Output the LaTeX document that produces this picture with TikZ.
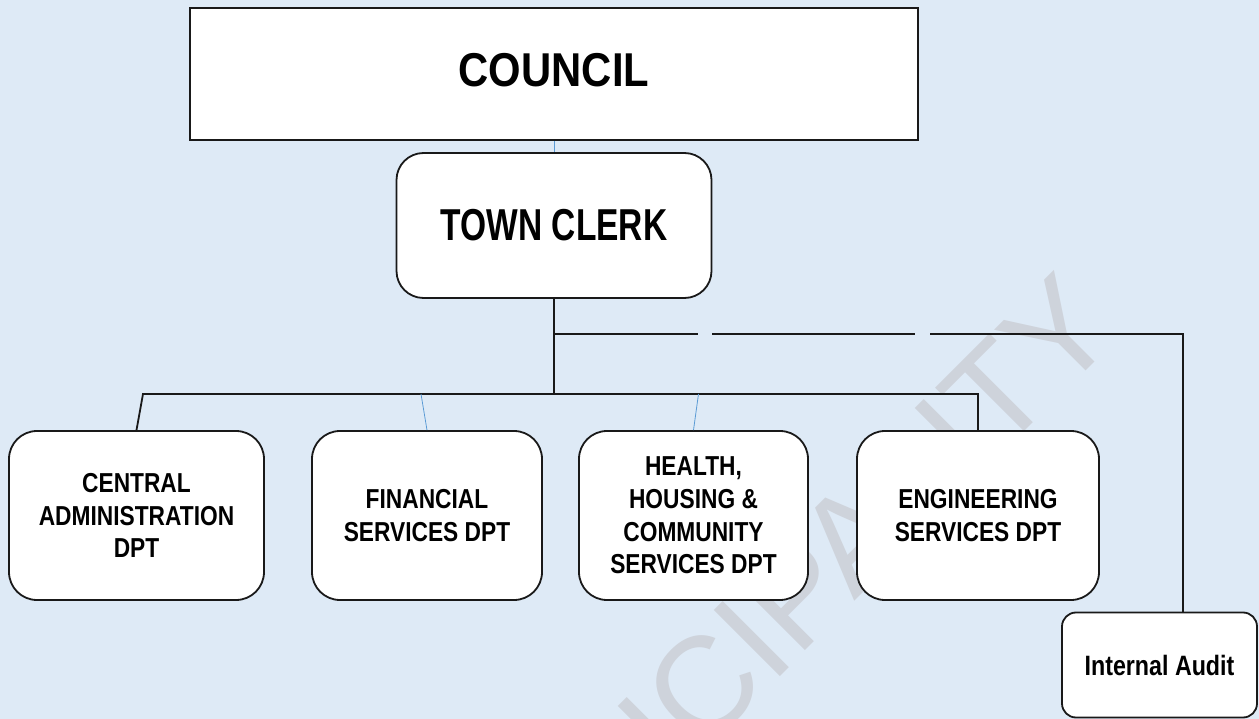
\documentclass[tikz,border=0pt]{standalone}
\usepackage{fontspec}
\setmainfont{Liberation Sans}
\newfontfamily\councilfont[FakeStretch=0.88]{Liberation Sans}
\newfontfamily\clerkfont[FakeStretch=0.75]{Liberation Sans}
\newfontfamily\deptfont[FakeStretch=0.83]{Liberation Sans}
\definecolor{pagebg}{RGB}{222,234,246}
\definecolor{markgray}{RGB}{206,211,219}
\definecolor{thinblue}{RGB}{91,155,213}
\definecolor{edge}{RGB}{25,25,25}
\begin{document}
\begin{tikzpicture}[x=1pt,y=-1pt,
  box/.style={draw=edge,line width=1.8pt,fill=white,inner sep=0pt,align=center},
  dept/.style={box,rounded corners=28pt,minimum height=169pt,
    font=\deptfont\bfseries\fontsize{27.4}{32.7}\selectfont},
  conn/.style={draw=edge,line width=1.8pt},
  thin/.style={draw=thinblue,line width=0.8pt},
  watermark/.style={text=markgray,inner sep=0pt,
    font=\fontsize{136}{136}\selectfont}]
% page
\fill[pagebg] (0,0) rectangle (1259,719);
\useasboundingbox (0,0) rectangle (1259,719);
% background lettering
\begin{scope}
  \clip (0,0) rectangle (1259,719);
  \node[watermark,rotate=45] (wm) at (756,634) {MUNICIPALITY};
\end{scope}
% boxes
\node[box,minimum width=728pt,minimum height=132pt,text depth=9pt,
  font=\councilfont\bfseries\fontsize{47.5}{50}\selectfont] (council) at (554,74) {COUNCIL};
\node[box,rounded corners=27pt,minimum width=315pt,minimum height=145pt,
  font=\clerkfont\bfseries\fontsize{44.7}{48}\selectfont] (clerk) at (554,225.5) {TOWN CLERK};
\node[dept,minimum width=255pt] (central) at (136.5,515.5) {CENTRAL\\ADMINISTRATION\\DPT};
\node[dept,minimum width=230pt] (finance) at (427,515.5) {FINANCIAL\\SERVICES DPT};
\node[dept,minimum width=229pt] (health) at (693.5,515.5) {HEALTH,\\HOUSING \&\\COMMUNITY\\SERVICES DPT};
\node[dept,minimum width=242pt] (eng) at (978,515.5) {ENGINEERING\\SERVICES DPT};
% connector points
\coordinate (busL) at (143,394);
\coordinate (busM) at (clerk.south |- busL);
\coordinate (busR) at (eng.north |- busL);
\coordinate (split) at (clerk.south |- 0,334);
\coordinate (corner) at (1183,334);
\coordinate (finTop) at (421,394);
\coordinate (hltTop) at (698.5,394);
% connectors (drawn before the audit box so it covers the line end)
\draw[thin] (council.south) -- (clerk.north);
\draw[conn] (clerk.south) -- (busM);
\draw[conn,line join=miter] (central.north) -- (busL) -- (busR) -- (eng.north);
\draw[thin] (finTop) -- (finance.north);
\draw[thin] (hltTop) -- (health.north);
\node[box,rounded corners=14pt,minimum width=195pt,minimum height=105pt,
  font=\deptfont\bfseries\fontsize{28}{32}\selectfont] (audit) at (1159.5,665) {Internal Audit};
\draw[conn,dash pattern=on 144pt off 14pt on 203pt off 15pt on 700pt]
  (split) -- (corner) -- (audit.north -| corner);
\end{tikzpicture}
\end{document}
